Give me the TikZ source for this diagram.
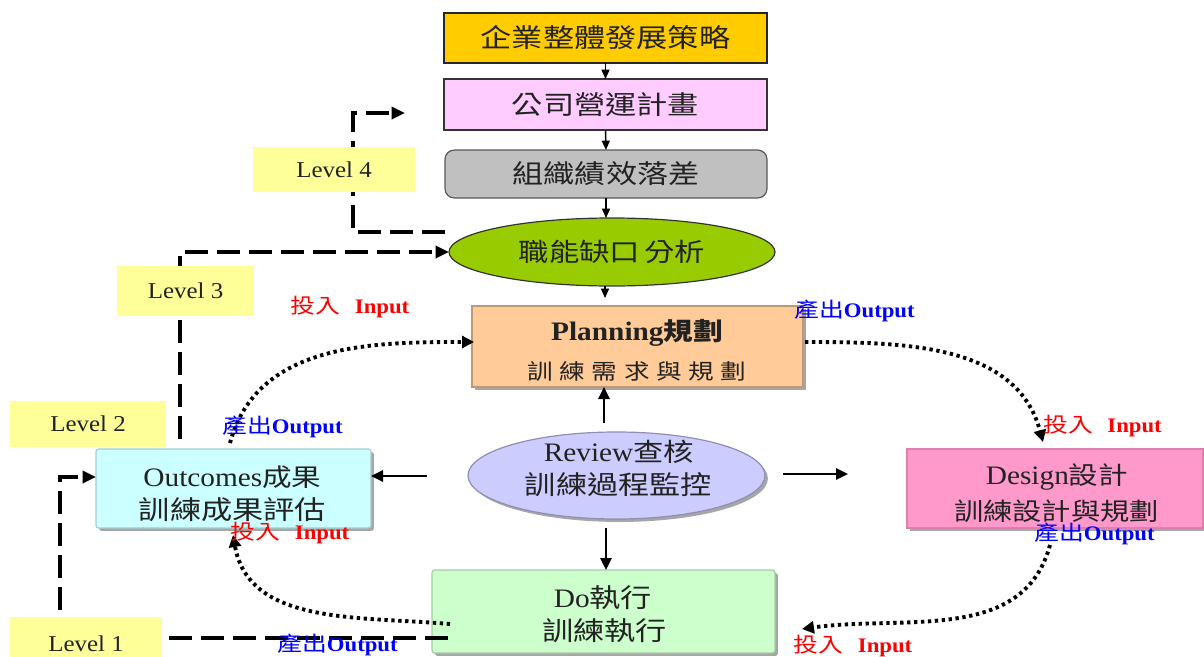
\documentclass[tikz,border=0pt]{standalone}
\usepackage{fontspec}
\setmainfont{Liberation Serif}[FakeStretch=1.1]
\newfontfamily\cjk{Noto Sans CJK TC}[FakeStretch=1.2]
\usetikzlibrary{arrows.meta,shapes.geometric,shadows}
\newcommand\zh[1]{{\cjk #1}}
\newcommand\zhs[2]{{\fontsize{#1}{#1}\selectfont\cjk #2}}
\newcommand\fsz[1]{\fontsize{#1}{#1}\selectfont}
\definecolor{cGold}{HTML}{FFCC00}
\definecolor{cPink}{HTML}{FFCCFF}
\definecolor{cGray}{HTML}{C0C0C0}
\definecolor{cGreen}{HTML}{99CC00}
\definecolor{cPlan}{HTML}{FFCC99}
\definecolor{cRev}{HTML}{CCCCFF}
\definecolor{cOut}{HTML}{CCFFFF}
\definecolor{cDes}{HTML}{FF99CC}
\definecolor{cDo}{HTML}{CCFFCC}
\definecolor{cLvl}{HTML}{FFFF99}
\definecolor{cRed}{HTML}{FF0000}
\definecolor{cBlue}{HTML}{0000FF}
\definecolor{cTxt}{HTML}{222222}
\begin{document}
\begin{tikzpicture}[x=0.75pt,y=-0.75pt,
  box/.style={inner sep=0pt,outer sep=0pt,line width=0.9pt,text=cTxt},
  shad/.style={drop shadow={shadow xshift=2.2pt,shadow yshift=-2.2pt,fill=black!50,opacity=0.7}},
  lvl/.style={fill=cLvl,inner sep=0pt,outer sep=0pt,text=cTxt,font={\fsz{17pt}}},
  arr/.style={line width=1.1pt,-{Triangle[length=7pt,width=6pt]}},
  bigarr/.style={line width=1.4pt,-{Triangle[length=9pt,width=8.5pt]}},
  dline/.style={line width=3pt,dash pattern=on 17pt off 7pt},
  dtip/.style={-{Triangle[length=10pt,width=9pt]}},
  dotl/.style={line width=2.9pt,dash pattern=on 2.5pt off 2.7pt,-{Triangle[length=9pt,width=9pt]}},
  inlab/.style={text=cRed,inner sep=0pt,font={\fsz{15.5pt}}},
  outlab/.style={text=cBlue,inner sep=0pt,font={\fsz{15.5pt}}},
  txt/.style={inner sep=0pt,text=cTxt}]
\useasboundingbox (0,0) rectangle (1204,657);

% main boxes
\node[box,draw=black!85,fill=cGold,minimum width=242.25pt,minimum height=37.5pt,font={\fsz{19.5pt}\cjk}] (b1) at (605.5,38) {企業整體發展策略};
\node[box,draw=black!80,fill=cPink,minimum width=242.25pt,minimum height=38.25pt,font={\fsz{19.5pt}\cjk}] (b2) at (605.5,104.5) {公司營運計畫};
\node[box,draw=black!65,fill=cGray,rounded corners=7pt,minimum width=241.5pt,minimum height=36pt,font={\fsz{19.5pt}\cjk}] (b3) at (606,174) {組織績效落差};
\node[box,ellipse,draw=black!80,fill=cGreen,minimum width=244.5pt,minimum height=51pt,font={\fsz{19pt}\cjk}] (ell) at (612,252) {職能缺口\,分析};

\node[box,shad,draw=cPlan!75!black,fill=cPlan,minimum width=248.25pt,minimum height=60.75pt] (plan) at (637.5,346.5) {};
\node[txt,font={\fsz{20pt}\bfseries}] (planA) at (637,333) {Planning\zhs{18.5pt}{規劃}};
\node[txt,font={\fsz{16pt}\cjk}] (planB) at (637,371) {訓\hspace{5pt}練\hspace{5pt}需\hspace{5pt}求\hspace{5pt}與\hspace{5pt}規\hspace{5pt}劃};

\node[box,ellipse,shad,draw=cRev!70!black,fill=cRev,minimum width=222.75pt,minimum height=65.25pt] (rev) at (616.5,475.5) {};
\node[txt,font={\fsz{20pt}}] (revA) at (619,452) {Review\zhs{19pt}{查核}};
\node[txt,font={\fsz{19.5pt}\cjk}] (revB) at (618.5,485) {訓練過程監控};

\node[box,shad,draw=cOut!80!black,fill=cOut,rounded corners=2pt,minimum width=206.25pt,minimum height=59.25pt] (out) at (233.5,488.5) {};
\node[txt,font={\fsz{20pt}}] (outA) at (232.5,477) {Outcomes\zhs{18.5pt}{成果}};
\node[txt,font={\fsz{19.5pt}\cjk}] (outB) at (232.5,510) {訓練成果評估};

\node[box,shad,draw=cDes!85!black,fill=cDes,minimum width=222pt,minimum height=59.25pt] (des) at (1055,488.5) {};
\node[txt,font={\fsz{20pt}}] (desA) at (1057,477) {Design\zhs{18.5pt}{設計}};
\node[txt,font={\fsz{18.3pt}\cjk}] (desB) at (1056.5,511) {訓練設計與規劃};

\node[box,shad,draw=cDo!80!black,fill=cDo,rounded corners=2pt,minimum width=257.25pt,minimum height=62.25pt] (do) at (603.5,611.5) {};
\node[txt,font={\fsz{20pt}}] (doA) at (603,598) {Do\zhs{19.5pt}{執行}};
\node[txt,font={\fsz{19.5pt}\cjk}] (doB) at (604.5,631) {訓練執行};

% solid arrows
\draw[arr] (b1.south) -- (b2.north);
\draw[arr] (b2.south) -- (b3.north);
\draw[arr] (b3.south) -- (b3.south |- ell.north);
\coordinate (e2p) at (605,286);
\coordinate (e2pe) at (605,298);
\draw[arr] (e2p) -- (e2pe);

\coordinate (rU) at (604,423);
\draw[bigarr] (rU) -- (rU |- plan.south);
\coordinate (rL) at (427,476);
\draw[bigarr] (rL) -- (rL -| out.east);
\coordinate (rR) at (783,474);
\coordinate (rRe) at (848,474);
\draw[bigarr] (rR) -- (rRe);
\coordinate (rD) at (606,528);
\draw[bigarr] (rD) -- (rD |- do.north);

% dotted cycle
\coordinate (c1s) at (230,443);
\coordinate (c1e) at (474,342);
\draw[dotl] (c1s) to[out=75,in=180] (c1e);
\coordinate (c2s) at (805,342);
\coordinate (c2e) at (1043,442);
\draw[dotl] (c2s) to[out=0,in=105] (c2e);
\coordinate (c3s) at (1050,545);
\coordinate (c3e) at (802,629);
\draw[dotl] (c3s) to[out=-105,in=8] (c3e);
\coordinate (c4s) at (450,624);
\coordinate (c4e) at (233,535);
\draw[dotl] (c4s) to[out=175,in=-80] (c4e);

% dashed level lines
\coordinate (l4a) at (445,232);
\coordinate (l4b) at (353,232);
\coordinate (l4c) at (353,113);
\coordinate (l4d) at (405,113);
\draw[dline,dtip] (l4a) -- (l4b) -- (l4c) -- (l4d);
\coordinate (l3a) at (180,439);
\draw[dline,dtip] (l3a) -- (l3a |- ell.west) -- (ell.west);
\coordinate (l1a) at (448,638);
\coordinate (l1b) at (60,638);
\coordinate (l1c) at (60,477);
\draw[dline,dtip] (l1a) -- (l1b) -- (l1c) -- (l1c -| out.west);

% level boxes
\node[lvl,minimum width=121.5pt,minimum height=33.75pt] (lv4) at (334,169.5) {Level 4};
\node[lvl,minimum width=102.75pt,minimum height=37.5pt] (lv3) at (185.5,291) {Level 3};
\node[lvl,minimum width=117pt,minimum height=34.5pt] (lv2) at (88,424) {Level 2};
\node[lvl,minimum width=114pt,minimum height=39.75pt] (lv1) at (86,643.5) {Level 1};

% input / output labels
\node[inlab] (in1) at (350,307) {\zh{投入}\hspace{11pt}\textbf{Input}};
\node[outlab] (ou1) at (854.5,311) {\zh{產出}\textbf{Output}};
\node[outlab] (ou2) at (282.5,427) {\zh{產出}\textbf{Output}};
\node[inlab] (in2) at (1102.5,426) {\zh{投入}\hspace{11pt}\textbf{Input}};
\node[inlab] (in3) at (290,533) {\zh{投入}\hspace{11pt}\textbf{Input}};
\node[outlab] (ou3) at (1094.5,534) {\zh{產出}\textbf{Output}};
\node[inlab] (in4) at (853,646) {\zh{投入}\hspace{11pt}\textbf{Input}};
\node[outlab] (ou4) at (337.5,645) {\zh{產出}\textbf{Output}};
\end{tikzpicture}
\end{document}
